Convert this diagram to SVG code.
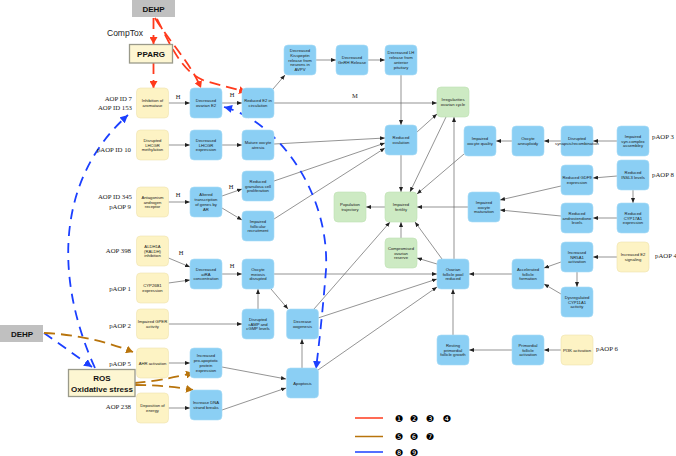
<svg xmlns="http://www.w3.org/2000/svg" width="676" height="456" viewBox="0 0 676 456">
<style>
.bl{fill:#8bcff4;stroke:#a9dcf6;stroke-width:0.6}
.ye{fill:#fdf3c4;stroke:#efe2ae;stroke-width:0.6}
.gr{fill:#cdeac3;stroke:#bde0b2;stroke-width:0.6}
.t{font-family:"Liberation Sans",Arial,sans-serif;font-size:4.2px;fill:#1a1a1a;text-anchor:middle}
.lab{font-family:"Liberation Serif","Times New Roman",serif;font-size:6.8px;fill:#222}
.r{text-anchor:end}
.hm{font-family:"Liberation Serif","Times New Roman",serif;font-size:6.5px;fill:#222;text-anchor:middle}
.c{stroke:#666;stroke-width:0.7;fill:none;marker-end:url(#a)}
.red{stroke:#ff3a1c;stroke-width:1.8;fill:none;stroke-dasharray:11 6;marker-end:url(#ar)}
.blu{stroke:#1b3fff;stroke-width:1.8;fill:none;stroke-dasharray:10 7;marker-end:url(#ab)}
.org{stroke:#b8740c;stroke-width:1.8;fill:none;stroke-dasharray:11 6;marker-end:url(#ao)}
.bx{font-family:"Liberation Sans",Arial,sans-serif;font-weight:bold;font-size:8px;fill:#111;text-anchor:middle}
.num{font-family:"DejaVu Sans",sans-serif;font-size:9.5px;fill:#000;text-anchor:middle}
</style>
<defs>
<marker id="a" markerUnits="userSpaceOnUse" markerWidth="5" markerHeight="4" refX="5" refY="2" orient="auto"><path d="M0,0 L5,2 L0,4 z" fill="#222"/></marker>
<marker id="ar" markerUnits="userSpaceOnUse" markerWidth="8" markerHeight="8" refX="7" refY="4" orient="auto"><path d="M0,0 L7,4 L0,8 z" fill="#ff3a1c"/></marker>
<marker id="ab" markerUnits="userSpaceOnUse" markerWidth="9" markerHeight="8" refX="8" refY="4" orient="auto"><path d="M0,0 L8,4 L0,8 z" fill="#1b3fff"/></marker>
<marker id="abs" markerUnits="userSpaceOnUse" markerWidth="9" markerHeight="8" refX="0" refY="4" orient="auto"><path d="M8,0 L0,4 L8,8 z" fill="#1b3fff"/></marker>
<marker id="ao" markerUnits="userSpaceOnUse" markerWidth="8" markerHeight="8" refX="7" refY="4" orient="auto"><path d="M0,0 L7,4 L0,8 z" fill="#b8740c"/></marker>
</defs>
<rect width="676" height="456" fill="#fff"/>

<g id="connectors">
<path class="c" d="M168.5,103 L190,103"/>
<path class="c" d="M222,103 L242,103"/>
<path class="c" d="M273,89 L285,75"/>
<path class="c" d="M316,60 L336,60"/>
<path class="c" d="M368,60 L385,60"/>
<path class="c" d="M401,75 L401,125"/>
<path class="c" d="M274,103 L437,103"/>
<path class="c" d="M417,132 L437,114"/>
<path class="c" d="M446,117 L410,192"/>
<path class="c" d="M454,259 L454,117"/>
<path class="c" d="M401,155 L401,192"/>
<path class="c" d="M464,154 L417,194"/>
<path class="c" d="M468,207 L417,207"/>
<path class="c" d="M385,207 L366,207"/>
<path class="c" d="M401,238 L401,222"/>
<path class="c" d="M442,259 L415,222"/>
<path class="c" d="M437,264 L417,258"/>
<path class="c" d="M314,309 L390,222"/>
<path class="c" d="M274,274 L437,274"/>
<path class="c" d="M318,318 L437,279"/>
<path class="c" d="M318,370 L437,287"/>
<path class="c" d="M274,144 L385,138"/>
<path class="c" d="M274,181 L385,143"/>
<path class="c" d="M274,219 L385,148"/>
<path class="c" d="M168.5,145 L190,145"/>
<path class="c" d="M222,145 L242,145"/>
<path class="c" d="M168.5,202 L190,202"/>
<path class="c" d="M222,196 L242,189"/>
<path class="c" d="M222,208 L242,220"/>
<path class="c" d="M168.5,258 L190,267"/>
<path class="c" d="M168.5,283 L190,280"/>
<path class="c" d="M222,274 L242,274"/>
<path class="c" d="M271,289 L288,309"/>
<path class="c" d="M258,309 L258,289"/>
<path class="c" d="M168.5,324 L242,324"/>
<path class="c" d="M168.5,363 L190,363"/>
<path class="c" d="M168.5,408 L190,408"/>
<path class="c" d="M222,367 L286,379"/>
<path class="c" d="M222,410 L286,388"/>
<path class="c" d="M302,368 L302,339"/>
<path class="c" d="M617,141 L593,141"/>
<path class="c" d="M561,141 L544,141"/>
<path class="c" d="M512,141 L496,141"/>
<path class="c" d="M617,176 L593,178"/>
<path class="c" d="M633,190 L633,203"/>
<path class="c" d="M617,218 L593,218"/>
<path class="c" d="M561,216 L500,210"/>
<path class="c" d="M561,186 L500,200"/>
<path class="c" d="M617,257 L593,257"/>
<path class="c" d="M561,262 L544,268"/>
<path class="c" d="M577,272 L577,287"/>
<path class="c" d="M561,294 L544,284"/>
<path class="c" d="M512,274 L469,274"/>
<path class="c" d="M561,350 L544,350"/>
<path class="c" d="M512,350 L469,350"/>
<path class="c" d="M453,335 L453,289"/>
<text class="hm" x="178" y="99">H</text>
<text class="hm" x="232" y="97">H</text>
<text class="hm" x="355" y="98">M</text>
<text class="hm" x="178" y="197">H</text>
<text class="hm" x="231" y="189">H</text>
<text class="hm" x="181" y="255">H</text>
<text class="hm" x="232" y="268">H</text>
<!-- red -->
<path class="red" d="M153.5,18 L153.5,44"/>
<path class="red" d="M153.5,63 L153.5,88"/>
<path class="red" d="M155,18 C168,40 190,62 201,88"/>
<path class="red" d="M157,19 C172,48 182,72 205,81 L246,92"/>
<!-- blue -->
<path class="blu" d="M95,368 C55,280 55,180 128,115"/>
<path class="blu" d="M44,333 L92,367"/>
<path class="blu" style="marker-start:url(#abs)" d="M224,107 C275,120 330,190 326,270 Q322,320 316,369"/>
<!-- orange -->
<path class="org" d="M44,333 Q90,335 133,352"/>
<path class="org" d="M135,383 Q160,381 193,373"/>
<path class="org" d="M135,385 Q165,385 193,390"/>
</g>

<g id="DEHP_top"><rect x="132" y="0" width="43" height="17" fill="#c0c0c0"/><text class="bx" x="153.5" y="11.5">DEHP</text></g>
<g id="comptox"><text x="107" y="36" font-family="Liberation Sans,Arial,sans-serif" font-size="8.5" fill="#222">CompTox</text></g>
<g id="PPARG"><rect x="129.5" y="44.5" width="43" height="18.5" fill="#fdf6d2" stroke="#9a9a8a" stroke-width="1.3"/><text class="bx" x="151" y="57">PPARG</text></g>
<g id="DEHP_left"><rect x="0" y="325" width="43" height="17" fill="#c0c0c0"/><text class="bx" x="22" y="336.5">DEHP</text></g>
<g id="ROS"><rect x="68.5" y="369.5" width="66.5" height="27" fill="#fdf6d2" stroke="#9a9a8a" stroke-width="1.3"/><text class="bx" x="102" y="380.5">ROS</text><text class="bx" x="102" y="391.5">Oxidative stress</text></g>

<g id="labels">
<text class="lab r" x="132" y="101">AOP ID 7</text>
<text class="lab r" x="132" y="110">AOP ID 153</text>
<text class="lab r" x="131" y="152">pAOP ID 10</text>
<text class="lab r" x="132" y="199">AOP ID 345</text>
<text class="lab r" x="131" y="209">pAOP 9</text>
<text class="lab r" x="131" y="253">AOP 398</text>
<text class="lab r" x="131" y="291">pAOP 1</text>
<text class="lab r" x="131" y="328">pAOP 2</text>
<text class="lab r" x="131" y="366">pAOP 5</text>
<text class="lab r" x="131" y="409">AOP 238</text>
<text class="lab" x="652" y="139">pAOP 3</text>
<text class="lab" x="652" y="177">pAOP 8</text>
<text class="lab" x="655" y="258">pAOP 4</text>
<text class="lab" x="596" y="351">pAOP 6</text>
</g>

<!-- yellow nodes -->
<g id="y1"><rect class="ye" x="136.5" y="88" width="32" height="30" rx="4"/><text class="t" x="152.5" y="102.1">Inhibition of<tspan x="152.5" dy="4.8">aromatase</tspan></text></g>
<g id="y2"><rect class="ye" x="136.5" y="130" width="32" height="30" rx="4"/><text class="t" x="152.5" y="141.7">Disrupted<tspan x="152.5" dy="4.8">LHCGR</tspan><tspan x="152.5" dy="4.8">methylation</tspan></text></g>
<g id="y3"><rect class="ye" x="136.5" y="187" width="32" height="30" rx="4"/><text class="t" x="152.5" y="198.7">Antagonism<tspan x="152.5" dy="4.8">androgen</tspan><tspan x="152.5" dy="4.8">receptor</tspan></text></g>
<g id="y4"><rect class="ye" x="136.5" y="236" width="32" height="30" rx="4"/><text class="t" x="152.5" y="247.7">ALDH1A<tspan x="152.5" dy="4.8">(RALDH)</tspan><tspan x="152.5" dy="4.8">inhibition</tspan></text></g>
<g id="y5"><rect class="ye" x="136.5" y="273" width="32" height="30" rx="4"/><text class="t" x="152.5" y="287.1">CYP26B1<tspan x="152.5" dy="4.8">expression</tspan></text></g>
<g id="y6"><rect class="ye" x="136.5" y="309" width="32" height="30" rx="4"/><text class="t" x="152.5" y="323.1">Impaired GPER<tspan x="152.5" dy="4.8">activity</tspan></text></g>
<g id="y7"><rect class="ye" x="136.5" y="348" width="32" height="30" rx="4"/><text class="t" x="152.5" y="364.5">AHR activation</text></g>
<g id="y8"><rect class="ye" x="136.5" y="393" width="32" height="30" rx="4"/><text class="t" x="152.5" y="407.1">Deposition of<tspan x="152.5" dy="4.8">energy</tspan></text></g>
<g id="y9"><rect class="ye" x="617" y="242" width="32" height="30" rx="4"/><text class="t" x="633" y="256.1">Increased E2<tspan x="633" dy="4.8">signaling</tspan></text></g>
<g id="y10"><rect class="ye" x="561" y="335" width="32" height="30" rx="4"/><text class="t" x="577" y="351.5">PI3K activation</text></g>

<!-- blue nodes -->
<g id="b1"><rect class="bl" x="190" y="88" width="32" height="30" rx="4"/><text class="t" x="206" y="102.1">Decreased<tspan x="206" dy="4.8">ovarian E2</tspan></text></g>
<g id="b2"><rect class="bl" x="242" y="88" width="32" height="30" rx="4"/><text class="t" x="258" y="102.1">Reduced E2 in<tspan x="258" dy="4.8">circulation</tspan></text></g>
<g id="b3"><rect class="bl" x="284" y="45" width="32" height="30" rx="4"/><text class="t" x="300" y="51.9">Decreased<tspan x="300" dy="4.8">Kisspeptin</tspan><tspan x="300" dy="4.8">release from</tspan><tspan x="300" dy="4.8">neurons in</tspan><tspan x="300" dy="4.8">AVPV</tspan></text></g>
<g id="b4"><rect class="bl" x="336" y="45" width="32" height="30" rx="4"/><text class="t" x="352" y="59.1">Decreased<tspan x="352" dy="4.8">GnRH Release</tspan></text></g>
<g id="b5"><rect class="bl" x="385" y="45" width="32" height="30" rx="4"/><text class="t" x="401" y="54.3">Decreased LH<tspan x="401" dy="4.8">release from</tspan><tspan x="401" dy="4.8">anterior</tspan><tspan x="401" dy="4.8">pituitary</tspan></text></g>
<g id="b6"><rect class="bl" x="190" y="130" width="32" height="30" rx="4"/><text class="t" x="206" y="141.7">Decreased<tspan x="206" dy="4.8">LHCGR</tspan><tspan x="206" dy="4.8">expression</tspan></text></g>
<g id="b7"><rect class="bl" x="242" y="130" width="32" height="30" rx="4"/><text class="t" x="258" y="144.1">Mature oocyte<tspan x="258" dy="4.8">atresia</tspan></text></g>
<g id="b8"><rect class="bl" x="190" y="187" width="32" height="30" rx="4"/><text class="t" x="206" y="196.3">Altered<tspan x="206" dy="4.8">transcription</tspan><tspan x="206" dy="4.8">of genes by</tspan><tspan x="206" dy="4.8">AR</tspan></text></g>
<g id="b9"><rect class="bl" x="242" y="171" width="32" height="30" rx="4"/><text class="t" x="258" y="182.7">Reduced<tspan x="258" dy="4.8">granulosa cell</tspan><tspan x="258" dy="4.8">proliferation</tspan></text></g>
<g id="b10"><rect class="bl" x="242" y="211" width="32" height="30" rx="4"/><text class="t" x="258" y="222.7">Impaired<tspan x="258" dy="4.8">follicular</tspan><tspan x="258" dy="4.8">recruitment</tspan></text></g>
<g id="b11"><rect class="bl" x="190" y="259" width="32" height="30" rx="4"/><text class="t" x="206" y="270.7">Decreased<tspan x="206" dy="4.8">atRA</tspan><tspan x="206" dy="4.8">concentration</tspan></text></g>
<g id="b12"><rect class="bl" x="242" y="259" width="32" height="30" rx="4"/><text class="t" x="258" y="270.7">Oocyte<tspan x="258" dy="4.8">meiosis</tspan><tspan x="258" dy="4.8">disrupted</tspan></text></g>
<g id="b13"><rect class="bl" x="242" y="309" width="32" height="30" rx="4"/><text class="t" x="258" y="320.7">Disrupted<tspan x="258" dy="4.8">cAMP and</tspan><tspan x="258" dy="4.8">cGMP levels</tspan></text></g>
<g id="b14"><rect class="bl" x="286.5" y="309" width="32" height="30" rx="4"/><text class="t" x="302.5" y="323.1">Decrease<tspan x="302.5" dy="4.8">oogenesis</tspan></text></g>
<g id="b15"><rect class="bl" x="190" y="348" width="32" height="30" rx="4"/><text class="t" x="206" y="357.3">Increased<tspan x="206" dy="4.8">pro-apoptotic</tspan><tspan x="206" dy="4.8">protein</tspan><tspan x="206" dy="4.8">expression</tspan></text></g>
<g id="b16"><rect class="bl" x="190" y="390" width="32" height="30" rx="4"/><text class="t" x="206" y="404.1">Increase DNA<tspan x="206" dy="4.8">strand breaks</tspan></text></g>
<g id="b17"><rect class="bl" x="286.5" y="368" width="32" height="30" rx="4"/><text class="t" x="302.5" y="384.5">Apoptosis</text></g>
<g id="b18"><rect class="bl" x="385" y="125" width="32" height="30" rx="4"/><text class="t" x="401" y="139.1">Reduced<tspan x="401" dy="4.8">ovulation</tspan></text></g>
<g id="b19"><rect class="bl" x="464" y="126" width="32" height="30" rx="4"/><text class="t" x="480" y="140.1">Impaired<tspan x="480" dy="4.8">oocyte quality</tspan></text></g>
<g id="b20"><rect class="bl" x="512" y="126" width="32" height="30" rx="4"/><text class="t" x="528" y="140.1">Oocyte<tspan x="528" dy="4.8">aneuploidy</tspan></text></g>
<g id="b21"><rect class="bl" x="561" y="126" width="32" height="30" rx="4"/><text class="t" x="577" y="140.1">Disrupted<tspan x="577" dy="4.8">synapsis/recombination</tspan></text></g>
<g id="b22"><rect class="bl" x="617" y="126" width="32" height="30" rx="4"/><text class="t" x="633" y="137.7">Impaired<tspan x="633" dy="4.8">syn.complex</tspan><tspan x="633" dy="4.8">assembley</tspan></text></g>
<g id="b23"><rect class="bl" x="561" y="165" width="32" height="30" rx="4"/><text class="t" x="577" y="179.1">Reduced GDF9<tspan x="577" dy="4.8">expression</tspan></text></g>
<g id="b24"><rect class="bl" x="617" y="160" width="32" height="30" rx="4"/><text class="t" x="633" y="174.1">Reduced<tspan x="633" dy="4.8">INSL3 levels</tspan></text></g>
<g id="b25"><rect class="bl" x="617" y="203" width="32" height="30" rx="4"/><text class="t" x="633" y="214.7">Reduced<tspan x="633" dy="4.8">CYP17A1</tspan><tspan x="633" dy="4.8">expression</tspan></text></g>
<g id="b26"><rect class="bl" x="561" y="203" width="32" height="30" rx="4"/><text class="t" x="577" y="214.7">Reduced<tspan x="577" dy="4.8">androstendione</tspan><tspan x="577" dy="4.8">levels</tspan></text></g>
<g id="b27"><rect class="bl" x="468" y="192" width="32" height="30" rx="4"/><text class="t" x="484" y="203.7">Impaired<tspan x="484" dy="4.8">oocyte</tspan><tspan x="484" dy="4.8">maturation</tspan></text></g>
<g id="b28"><rect class="bl" x="437" y="259" width="32" height="30" rx="4"/><text class="t" x="453" y="270.7">Ovarian<tspan x="453" dy="4.8">follicle pool</tspan><tspan x="453" dy="4.8">reduced</tspan></text></g>
<g id="b29"><rect class="bl" x="512" y="259" width="32" height="30" rx="4"/><text class="t" x="528" y="270.7">Accelerated<tspan x="528" dy="4.8">follicle</tspan><tspan x="528" dy="4.8">formation</tspan></text></g>
<g id="b30"><rect class="bl" x="561" y="242" width="32" height="30" rx="4"/><text class="t" x="577" y="253.7">Increased<tspan x="577" dy="4.8">NR5A1</tspan><tspan x="577" dy="4.8">activation</tspan></text></g>
<g id="b31"><rect class="bl" x="561" y="287" width="32" height="30" rx="4"/><text class="t" x="577" y="298.7">Dysregulated<tspan x="577" dy="4.8">CYP11A1</tspan><tspan x="577" dy="4.8">activity</tspan></text></g>
<g id="b32"><rect class="bl" x="437" y="335" width="32" height="30" rx="4"/><text class="t" x="453" y="346.7">Resting<tspan x="453" dy="4.8">primordial</tspan><tspan x="453" dy="4.8">follicle growth</tspan></text></g>
<g id="b33"><rect class="bl" x="512" y="335" width="32" height="30" rx="4"/><text class="t" x="528" y="346.7">Primordial<tspan x="528" dy="4.8">follicle</tspan><tspan x="528" dy="4.8">activation</tspan></text></g>

<!-- green nodes -->
<g id="g1"><rect class="gr" x="437" y="87" width="32" height="30" rx="4"/><text class="t" x="453" y="101.1">Irregularities<tspan x="453" dy="4.8">ovarian cycle</tspan></text></g>
<g id="g2"><rect class="gr" x="334" y="192" width="32" height="30" rx="4"/><text class="t" x="350" y="206.1">Population<tspan x="350" dy="4.8">trajectory</tspan></text></g>
<g id="g3"><rect class="gr" x="385" y="192" width="32" height="30" rx="4"/><text class="t" x="401" y="206.1">Impaired<tspan x="401" dy="4.8">fertility</tspan></text></g>
<g id="g4"><rect class="gr" x="385" y="238" width="32" height="30" rx="4"/><text class="t" x="401" y="249.7">Compromised<tspan x="401" dy="4.8">ovarian</tspan><tspan x="401" dy="4.8">reserve</tspan></text></g>

<g id="legend">
<line x1="355" y1="418" x2="383" y2="418" stroke="#ff3a1c" stroke-width="1.5"/>
<line x1="355" y1="436.5" x2="383" y2="436.5" stroke="#b8740c" stroke-width="1.5"/>
<line x1="355" y1="452" x2="383" y2="452" stroke="#1b3fff" stroke-width="1.5"/>
<text class="num" x="399" y="421.5">❶</text><text class="num" x="414" y="421.5">❷</text><text class="num" x="430" y="421.5">❸</text><text class="num" x="447" y="421.5">❹</text>
<text class="num" x="399" y="440">❺</text><text class="num" x="414" y="440">❻</text><text class="num" x="430" y="440">❼</text>
<text class="num" x="399" y="455.5">❽</text><text class="num" x="414" y="455.5">❾</text>
</g>
</svg>
